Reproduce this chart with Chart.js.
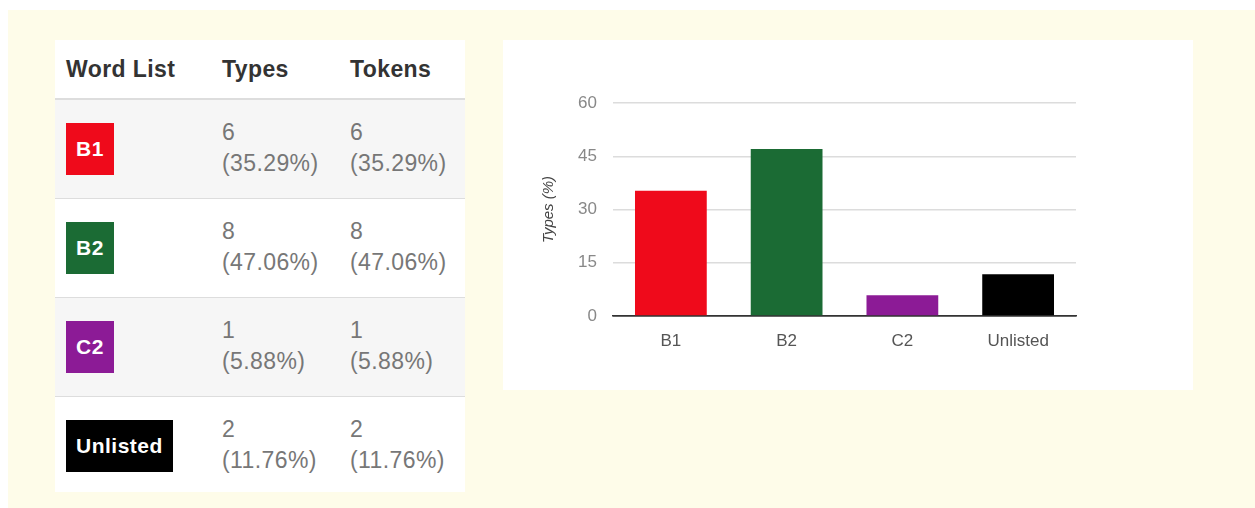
<!DOCTYPE html>
<html><head><meta charset="utf-8">
<script src="https://cdn.jsdelivr.net/npm/chart.js@4.4.1/dist/chart.umd.min.js"></script>
<style>
html,body{margin:0;padding:0;width:1255px;height:508px;overflow:hidden;background:#fff;font-family:"Liberation Sans",Arial,sans-serif;}
#bg{position:absolute;left:8px;top:10px;width:1247px;height:498px;background:#fefce9;}
#tbl{position:absolute;left:55px;top:40px;width:410px;height:452px;background:#fff;}
table{border-collapse:collapse;width:410px;table-layout:fixed;}
th{font-weight:bold;color:#333;font-size:23px;letter-spacing:0.4px;text-align:left;height:58px;padding:0 0 0 11px;border-bottom:2px solid #ddd;white-space:nowrap;}
td{font-size:23px;letter-spacing:0.4px;color:#777;vertical-align:top;padding:17px 0 0 11px;height:81px;border-top:1px solid #ddd;line-height:31px;white-space:nowrap;}
tr.g td{background:#f6f6f6;}
.badge{display:inline-block;color:#fff;font-weight:bold;font-size:21px;letter-spacing:0.5px;padding:0 10px;height:52px;line-height:52px;margin-top:6px;}
#card{position:absolute;left:503px;top:40px;width:690px;height:350px;background:#fff;}
#cw{position:absolute;left:0;top:0;width:689px;height:345px;}
</style></head><body>
<div id="bg"></div>
<div id="tbl"><table id="t"></table></div>
<div id="card"><div id="cw"><canvas id="c"></canvas></div></div>
<script>
const categories = ["B1","B2","C2","Unlisted"];
const typeCounts = [6,8,1,2];
const tokenCounts = [6,8,1,2];
const typePercents = [35.29,47.06,5.88,11.76];
const tokenPercents = [35.29,47.06,5.88,11.76];
const barColors = ["#ef0a1b","#1b6b34","#8c1b96","#000000"];
const yTicks = [0,15,30,45,60];

const t = document.getElementById('t');
let html = '<colgroup><col style="width:156px"><col style="width:128px"><col></colgroup>' +
  '<tr><th>Word List</th><th>Types</th><th>Tokens</th></tr>';
categories.forEach((c,i)=>{
  html += '<tr class="'+(i%2===0?'g':'')+'"><td><span class="badge" style="background:'+barColors[i]+'">'+c+'</span></td>'+
    '<td>'+typeCounts[i]+'<br>('+typePercents[i].toFixed(2)+'%)</td>'+
    '<td>'+tokenCounts[i]+'<br>('+tokenPercents[i].toFixed(2)+'%)</td></tr>';
});
t.innerHTML = html;

new Chart(document.getElementById('c'), {
  type: 'bar',
  data: { labels: categories, datasets: [{ data: typePercents, backgroundColor: barColors, borderWidth: 0, categoryPercentage: 1, barPercentage: 0.62 }] },
  options: {
    responsive: true, maintainAspectRatio: false, animation: false,
    layout: { padding: { left: 33, right: 116, top: 63, bottom: 0 } },
    plugins: { legend: { display: false }, tooltip: { enabled: false } },
    scales: {
      x: {
        grid: { display: false, drawTicks: false },
        border: { display: true, color: '#333', width: 1.5 },
        ticks: { color: '#555', font: { family: 'Liberation Sans', size: 17 }, padding: 15 },
        afterFit: s => { s.height = 69; }
      },
      y: {
        min: 0, max: 60,
        afterBuildTicks: s => { s.ticks = yTicks.map(v => ({ value: v })); },
        grid: { color: c => c.tick && c.tick.value === 0 ? '#333' : '#dcdcdc', lineWidth: 1.5, drawTicks: false },
        border: { display: false },
        ticks: { color: '#888', font: { family: 'Liberation Sans', size: 17 }, padding: 16 },
        title: { display: true, text: 'Types (%)', color: '#444', font: { family: 'Liberation Sans', size: 15, style: 'italic' }, padding: 4 },
        afterFit: s => { s.width = 77; }
      }
    }
  }
});
</script>
</body></html>
